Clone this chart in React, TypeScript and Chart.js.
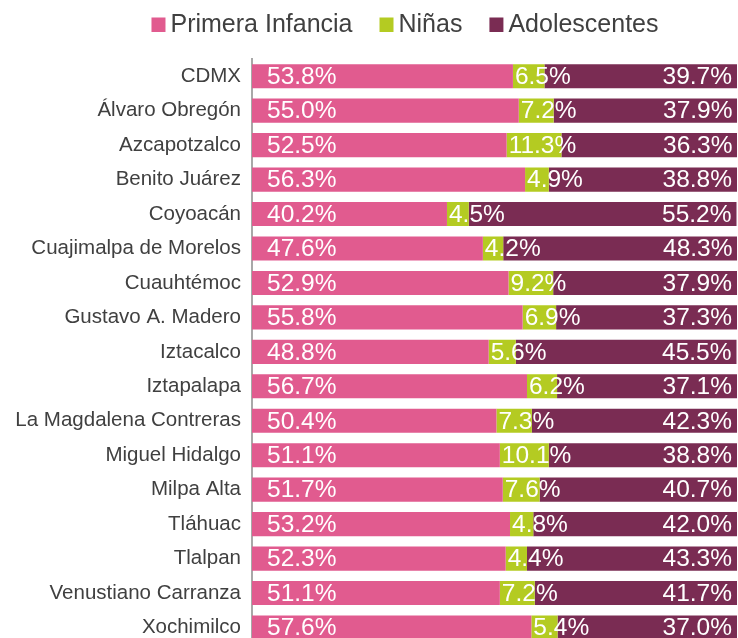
import React, { useEffect, useRef } from "react";
import { Chart, registerables } from "chart.js";

Chart.register(...registerables);

const categories = [
  "CDMX",
  "Álvaro Obregón",
  "Azcapotzalco",
  "Benito Juárez",
  "Coyoacán",
  "Cuajimalpa de Morelos",
  "Cuauhtémoc",
  "Gustavo A. Madero",
  "Iztacalco",
  "Iztapalapa",
  "La Magdalena Contreras",
  "Miguel Hidalgo",
  "Milpa Alta",
  "Tláhuac",
  "Tlalpan",
  "Venustiano Carranza",
  "Xochimilco",
];

const primeraInfancia = [53.8, 55.0, 52.5, 56.3, 40.2, 47.6, 52.9, 55.8, 48.8, 56.7, 50.4, 51.1, 51.7, 53.2, 52.3, 51.1, 57.6];
const ninas = [6.5, 7.2, 11.3, 4.9, 4.5, 4.2, 9.2, 6.9, 5.6, 6.2, 7.3, 10.1, 7.6, 4.8, 4.4, 7.2, 5.4];
const adolescentes = [39.7, 37.9, 36.3, 38.8, 55.2, 48.3, 37.9, 37.3, 45.5, 37.1, 42.3, 38.8, 40.7, 42.0, 43.3, 41.7, 37.0];

const seriesNames = ["Primera Infancia", "Niñas", "Adolescentes"];
const seriesColors = ["#E15B8F", "#B4CB22", "#7A2C53"];

const FONT = "'Liberation Sans', Arial, Helvetica, sans-serif";

const labelsPlugin = {
  id: "barLabels",
  afterDatasetsDraw(chart: any) {
    const ctx = chart.ctx;
    ctx.save();
    ctx.font = `24.5px ${FONT}`;
    ctx.fillStyle = "#FFFFFF";
    ctx.textBaseline = "middle";
    chart.data.datasets.forEach((ds: any, di: number) => {
      const meta = chart.getDatasetMeta(di);
      meta.data.forEach((el: any, i: number) => {
        const v = ds.data[i];
        const txt = v.toFixed(1) + "%";
        const start = Math.min(el.base, el.x);
        const end = Math.max(el.base, el.x);
        if (di === 0) {
          ctx.textAlign = "left";
          ctx.fillText(txt, start + 15, el.y + 1);
        } else if (di === 1) {
          ctx.textAlign = "left";
          ctx.fillText(txt, start + 2, el.y + 1);
        } else {
          ctx.textAlign = "right";
          ctx.fillText(txt, end - 5, el.y + 1);
        }
      });
    });
    ctx.restore();
  },
};

const legendPlugin = {
  id: "customLegend",
  afterDraw(chart: any) {
    const ctx = chart.ctx;
    ctx.save();
    ctx.font = `25px ${FONT}`;
    ctx.textBaseline = "alphabetic";
    ctx.textAlign = "left";
    const boxW = 14;
    const boxH = 14.5;
    const gapBox = 5;
    const gapItem = 27;
    const items = chart.data.datasets.map((ds: any) => ({
      text: ds.label,
      color: ds.backgroundColor,
      w: ctx.measureText(ds.label).width,
    }));
    let total = 0;
    items.forEach((it: any, i: number) => {
      total += boxW + gapBox + it.w + (i < items.length - 1 ? gapItem : 0);
    });
    let x = 405 - total / 2;
    const baseline = 32;
    items.forEach((it: any) => {
      ctx.fillStyle = it.color;
      ctx.fillRect(x, baseline - boxH, boxW, boxH);
      x += boxW + gapBox;
      ctx.fillStyle = "#404040";
      ctx.fillText(it.text, x, baseline);
      x += it.w + gapItem;
    });
    ctx.restore();
  },
};

export default function App() {
  const canvasRef = useRef<HTMLCanvasElement | null>(null);

  useEffect(() => {
    if (!canvasRef.current) return;
    const values = [primeraInfancia, ninas, adolescentes];
    const chart = new Chart(canvasRef.current, {
      type: "bar",
      data: {
        labels: categories,
        datasets: seriesNames.map((name, i) => ({
          label: name,
          data: values[i],
          backgroundColor: seriesColors[i],
          borderWidth: 0,
          barPercentage: 1,
          categoryPercentage: 0.7,
        })),
      },
      options: {
        indexAxis: "y",
        responsive: false,
        animation: false,
        devicePixelRatio: 1,
        layout: { padding: { top: 59, right: 1, bottom: 0, left: 0 } },
        plugins: {
          legend: { display: false },
          tooltip: { enabled: false },
          title: { display: false },
        },
        scales: {
          x: {
            stacked: true,
            min: 0,
            max: 100,
            display: false,
          },
          y: {
            stacked: true,
            grid: { display: false, drawTicks: false },
            border: { display: true, color: "#A8A8A8", width: 2 },
            ticks: {
              color: "#404040",
              font: { family: FONT, size: 20.5 },
              padding: 11,
              autoSkip: false,
            },
            afterFit: (scale: any) => {
              scale.width = 252;
            },
          },
        },
      },
      plugins: [labelsPlugin, legendPlugin],
    } as any);
    return () => chart.destroy();
  }, []);

  return (
    <div
      style={{
        position: "fixed",
        left: 0,
        top: 0,
        width: 738,
        height: 638,
        overflow: "hidden",
        background: "#FFFFFF",
      }}
    >
      <canvas ref={canvasRef} width={738} height={668} style={{ display: "block" }} />
    </div>
  );
}
